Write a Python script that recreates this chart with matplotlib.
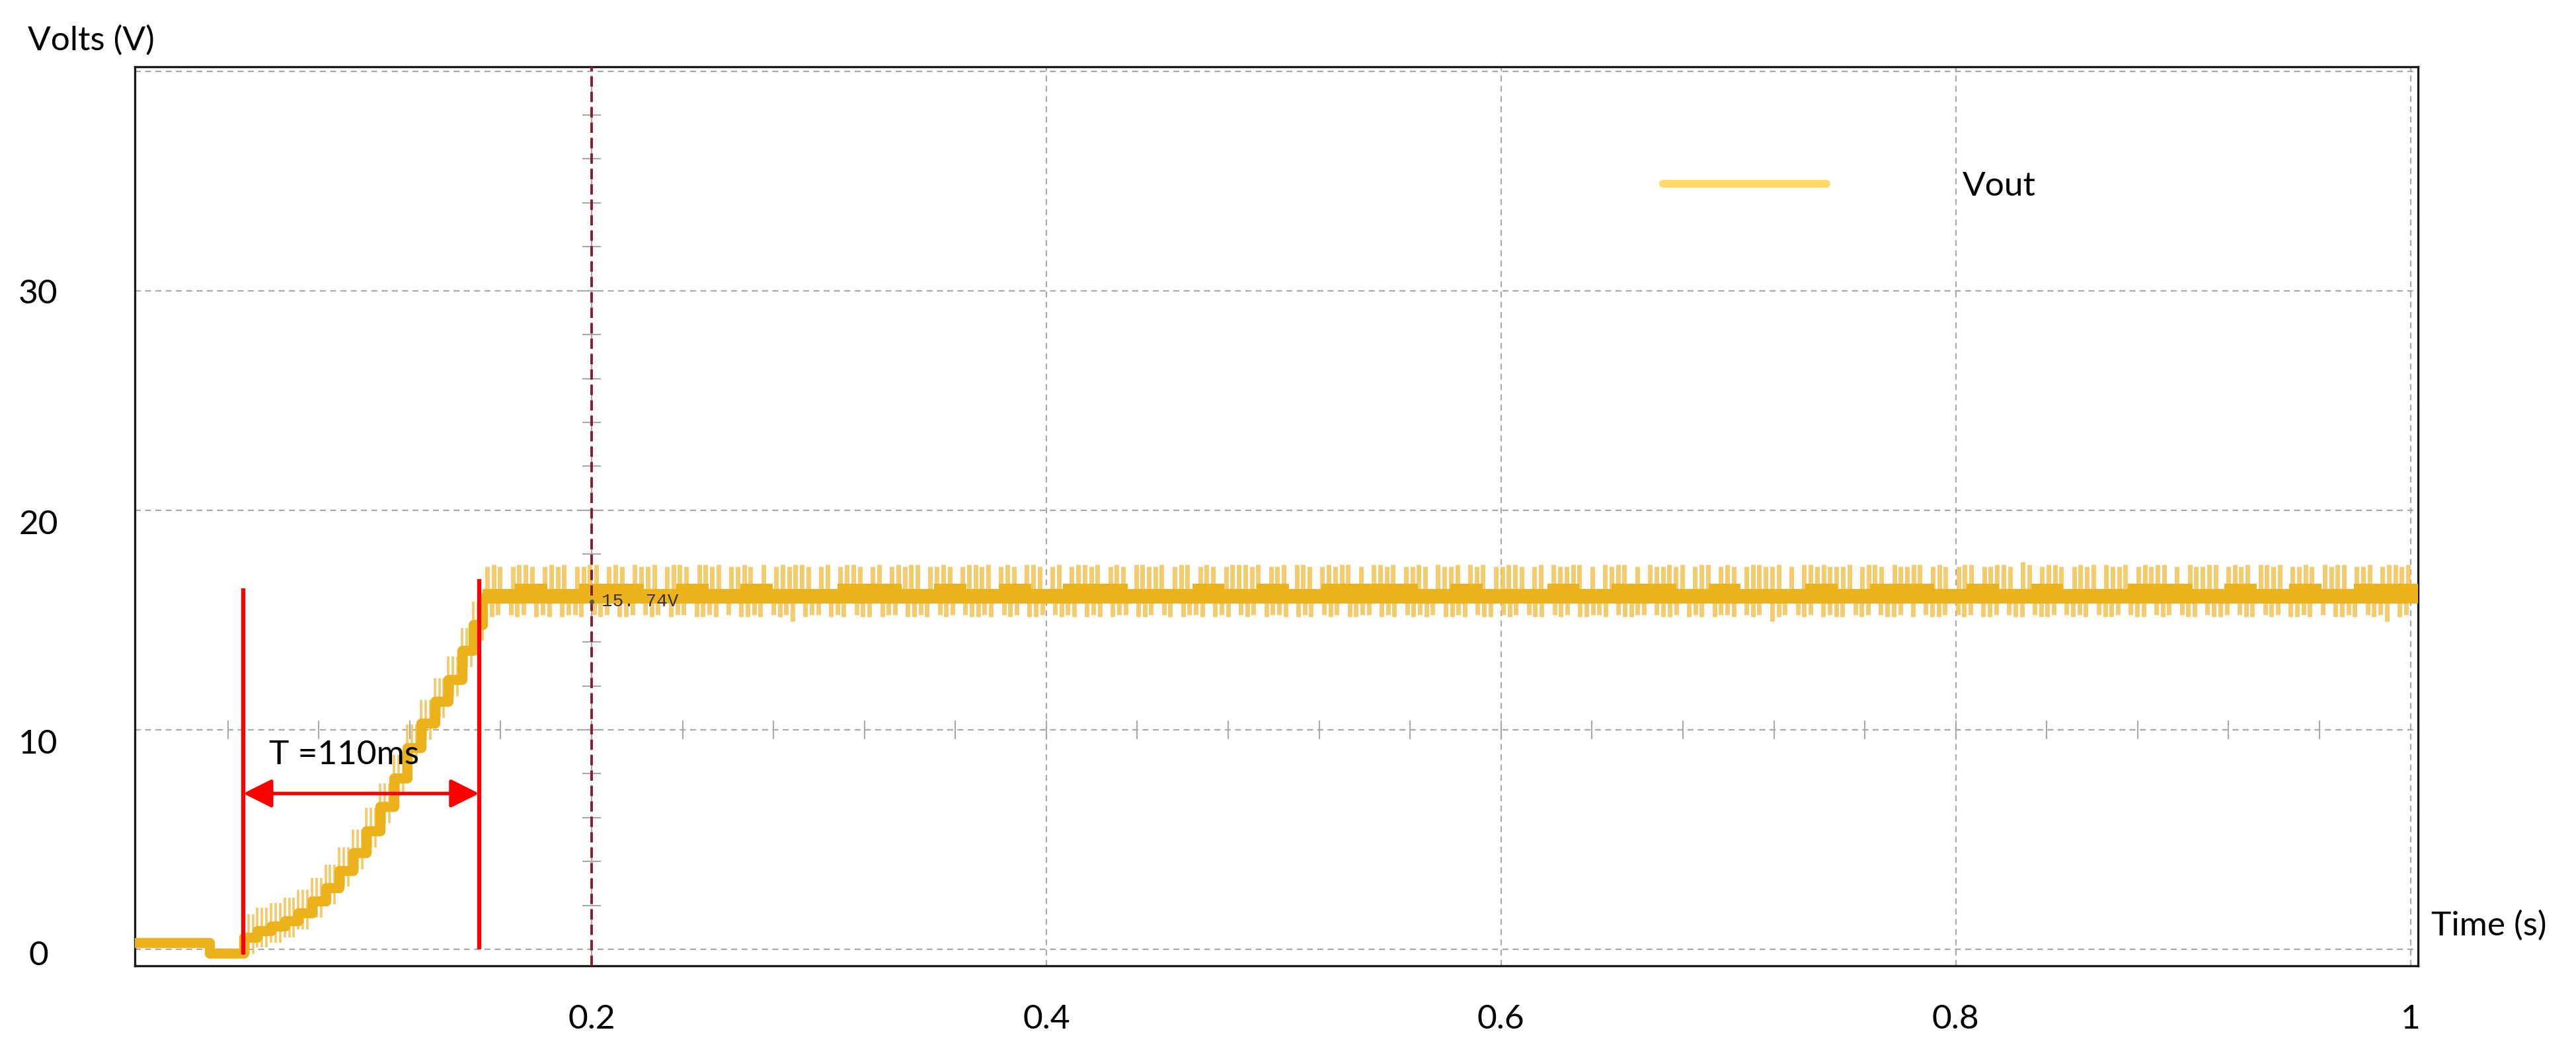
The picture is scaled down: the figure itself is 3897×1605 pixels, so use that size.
import numpy as np
import matplotlib
matplotlib.use("Agg")
import matplotlib.pyplot as plt
from matplotlib.lines import Line2D
from matplotlib.transforms import blended_transform_factory

# ---- data ----
# start-up staircase of Vout (step start time in s, level in V)
step_t = [0.000, 0.032, 0.047, 0.053, 0.059, 0.065, 0.071, 0.077, 0.083, 0.089,
          0.095, 0.101, 0.107, 0.113, 0.119, 0.125, 0.131, 0.137, 0.143, 0.148]
step_v = [0.30, -0.18, 0.55, 0.85, 1.05, 1.30, 1.65, 2.20, 2.80, 3.60,
          4.40, 5.40, 6.50, 7.80, 9.20, 10.3, 11.3, 12.3, 13.6, 14.8]

# steady state after start-up
plateau_start = 0.152
plateau_end = 1.0034
band_low = 15.75
# upper edge of the band per segment: V = 16.42 + 0.08*digit
plateau_core = "030330303003303030330030303330300303303003033030300330303033"
# ripple spikes above / below the band, one digit per spike (0 = none)
spike_top = ("787078870787807788078708778078"
             "870887807787080787887078078870"
             "780787880778707887807870887078"
             "078878078708877807880787078887"
             "807780887078788070887807787087"
             "780878077887078087788070878807"
             "087787807880787078877807088787"
             "778078870877880787078807788709"
             "807887078780877807878807087788"
             "078780887807787087880778078878")
spike_bot = ("650565065606556056506650565065"
             "506656050665605658065506560566"
             "065506656056505665605650665056"
             "560656065506650560655606560565"
             "065560656056506655065605656506"
             "656056605650566056506655605665"
             "505665065606556056508650565065"
             "660565056650605665056506650566"
             "056650565605665056605650566056"
             "650566056506656050665605658065")

cursor_t = 0.2
rise_start, rise_end = 0.0468, 0.1505
rise_label = "T =110ms"

x_ticks = [0.2, 0.4, 0.6, 0.8, 1.0]
x_labels = ["0.2", "0.4", "0.6", "0.8", "1"]
y_ticks = [0, 10, 20, 30]
y_labels = ["0", "10", "20", "30"]
y_label_shift = [0.3, 0.67, 0.67, 0.15]

trace_c = "#ECB21C"
spike_c = "#F2C04A"
grid_c = "#A8A8A8"

plt.rcParams['font.family'] = ['Lato', 'DejaVu Sans']

fig = plt.figure(figsize=(38.97, 16.05), dpi=100)
ax = fig.add_axes([0.05235, 0.0897, 0.8864, 0.8474])
ax.set_xlim(-0.0009, 1.0034)
ax.set_ylim(-0.75, 40.2)

# grid + graticule ticks
ax.set_xticks(x_ticks)
ax.set_xticklabels(x_labels, fontsize=37)
ax.set_yticks(y_ticks + [40])
ax.tick_params(axis='both', length=0)
ax.tick_params(axis='x', pad=42)
ax.tick_params(axis='y', labelleft=False)
ax.grid(True, color=grid_c, ls=(0, (4, 3)), lw=1.6, zorder=0)
gx = np.arange(0.04, 1.0, 0.04)
ax.vlines(gx, 10 - 0.42, 10 + 0.42, color=grid_c, lw=1.5, zorder=1)
gy = np.arange(2, 40, 2)
ax.hlines(gy, cursor_t - 0.0041, cursor_t + 0.0041, color=grid_c, lw=1.5, zorder=1)

for s in ax.spines.values():
    s.set_linewidth(2.4)
    s.set_color("#1a1a1a")

# start-up staircase
sv = np.array(step_v)
ax.step(step_t + [plateau_start], list(step_v) + [16.0], where='post',
        color=trace_c, lw=11, zorder=3)
for off in (0.0, 0.002, 0.004):
    ax.vlines(np.array(step_t[2:]) + off, sv[2:] - 0.75, sv[2:] + 1.05,
              color=spike_c, lw=2.6, alpha=0.85, zorder=2)

# steady-state band
core_up = 16.42 + 0.08 * np.array([int(c) for c in plateau_core])
core_t = np.linspace(plateau_start, plateau_end, len(core_up) + 1)
ax.fill_between(core_t, band_low, np.append(core_up, core_up[-1]), step='post',
                color=trace_c, lw=0, zorder=3)
dt = np.array([int(c) for c in spike_top])
tt = np.linspace(plateau_start + 0.002, 0.999, len(dt))
m = dt > 0
ax.vlines(tt[m], 16.2, 16.66 + 0.11 * dt[m], color=spike_c, lw=5, alpha=0.8, zorder=2)
db = np.array([int(c) for c in spike_bot])
tb = np.linspace(plateau_start + 0.004, 0.998, len(db))
m = db > 0
ax.vlines(tb[m], band_low - 0.1 * db[m], 16.0, color=spike_c, lw=5, alpha=0.8, zorder=2)

# cursor
ax.axvline(cursor_t, color="#8E1A2C", ls=(0, (4, 2)), lw=2.8, zorder=4)
ax.plot([cursor_t], [15.85], 'o', ms=4, color="#555555", zorder=5)
ax.text(cursor_t + 0.0045, 15.85, "15. 74V", family="Liberation Mono",
        fontsize=20, color="#333333", va='center', zorder=6)

# rise time annotation
ax.vlines([rise_start, rise_end], [-0.25, 0.0], [16.45, 16.85],
          color="red", lw=4.5, zorder=5)
ax.annotate("", xy=(rise_end, 7.1), xytext=(rise_start, 7.1),
            arrowprops=dict(arrowstyle="<|-|>,head_length=1.9,head_width=0.95",
                            mutation_scale=14, color="red", lw=3.8,
                            shrinkA=0, shrinkB=0), zorder=5)
ax.text(0.0581, 8.85, rise_label, fontsize=37, ha='left', va='center', zorder=6)

# y tick labels, placed by hand like the original
tr = blended_transform_factory(ax.transAxes, ax.transData)
for v, lab, sh in zip(y_ticks, y_labels, y_label_shift):
    ax.text(-0.0423, v - sh, lab, transform=tr, fontsize=37,
            ha='center', va='center', clip_on=False)

ax.text(-0.048, 41.4, "Volts (V)", fontsize=37, ha='left', va='center', clip_on=False)
ax.text(1.009, 1.08, "Time (s)", fontsize=37, ha='left', va='center', clip_on=False)

h = Line2D([], [], color="#FFD966", lw=8.5, solid_capstyle='round')
ax.legend([h], ["Vout"], loc='center left', bbox_to_anchor=(0.6714, 34.75),
          bbox_transform=ax.transData, frameon=False, fontsize=37,
          handlelength=4.8, handletextpad=4.0, borderpad=0, borderaxespad=0)

fig.savefig("out.png", dpi=100)
